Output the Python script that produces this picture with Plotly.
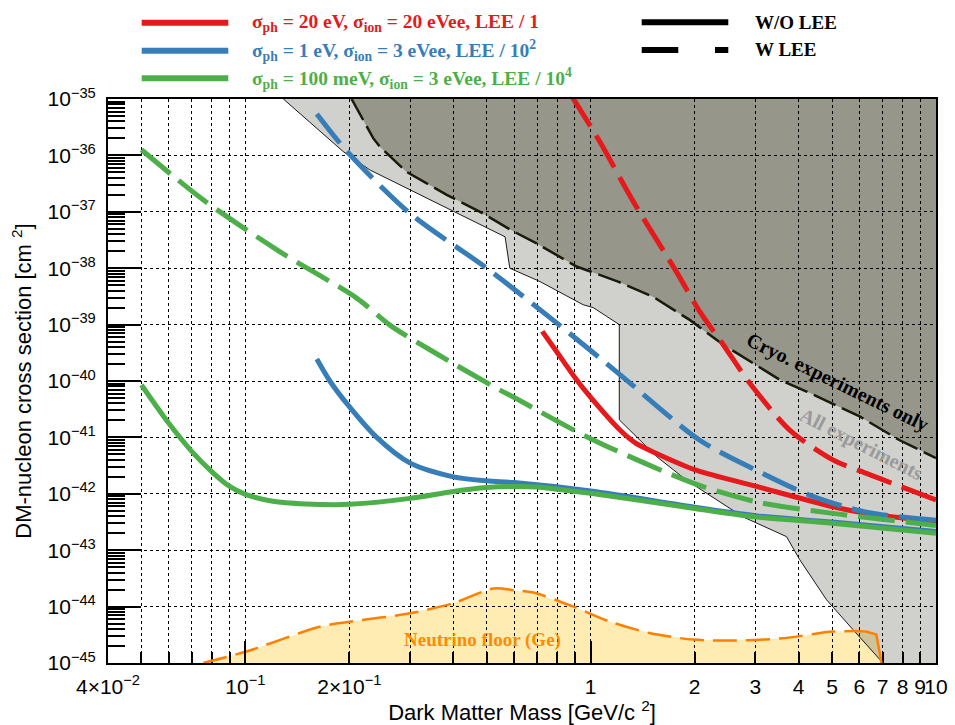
import numpy as np
import plotly.graph_objects as go

# ---------------- data (mass in GeV/c^2, cross section in cm^2) ----------------
green_solid_m = [0.050, 0.060, 0.070, 0.080, 0.090, 0.100, 0.12, 0.15, 0.18, 0.20, 0.30, 0.40, 0.50, 0.60, 0.70, 0.80, 1.0, 2.0, 3.0, 5.0, 10.0]
green_solid_s = [8.5e-41, 1.78e-41, 5.6e-42, 2.45e-42, 1.35e-42, 9.8e-43, 7.4e-43, 6.6e-43, 6.4e-43, 6.5e-43, 8.3e-43, 1.1e-42, 1.29e-42, 1.35e-42, 1.32e-42, 1.2e-42, 1.02e-42, 5.5e-43, 3.9e-43, 3.0e-43, 2.0e-43]

blue_solid_m = [0.161, 0.176, 0.20, 0.24, 0.30, 0.40, 0.50, 0.60, 1.0, 2.0, 3.0, 5.0, 10.0]
blue_solid_s = [2.45e-40, 9.8e-41, 3.5e-41, 1.0e-41, 3.5e-42, 2.0e-42, 1.7e-42, 1.58e-42, 1.12e-42, 5.8e-43, 4.1e-43, 3.15e-43, 2.15e-43]

red_solid_m = [0.724, 0.80, 0.91, 1.0, 1.215, 1.35, 1.55, 2.03, 3.02, 5.03, 6.29, 10.0]
red_solid_s = [7.6e-40, 3.2e-40, 1.05e-40, 5.1e-41, 1.35e-41, 7.9e-42, 5.2e-42, 2.6e-42, 1.35e-42, 5.9e-43, 4.5e-43, 3.2e-43]

red_dash_m = [0.875, 1.063, 1.33, 1.77, 2.07, 2.42, 2.89, 3.77, 5.03, 6.29, 10.0]
red_dash_s = [1.2e-35, 1.74e-36, 1.5e-37, 8.7e-39, 1.7e-39, 4.4e-40, 9.1e-41, 1.35e-41, 4.0e-42, 2.3e-42, 7.8e-43]

blue_dash_m = [0.161, 0.197, 0.30, 0.50, 0.80, 1.215, 2.07, 3.02, 4.3, 6.29, 10.0]
blue_dash_s = [5.4e-36, 1.17e-36, 9.3e-38, 1.0e-38, 1.05e-39, 1.3e-40, 8.9e-42, 2.6e-42, 9.5e-43, 4.7e-43, 3.4e-43]

green_dash_m = [0.050, 0.0756, 0.126, 0.21, 0.262, 0.35, 0.546, 0.597, 1.0, 1.98, 3.02, 5.03, 10.0]
green_dash_s = [1.26e-36, 1.62e-37, 1.95e-38, 2.95e-39, 9.8e-40, 3.3e-40, 6.9e-41, 5.2e-41, 9.5e-42, 1.55e-42, 7.2e-43, 4.5e-43, 2.75e-43]

nu_m = [0.0755, 0.10, 0.164, 0.20, 0.30, 0.40, 0.523, 0.60, 0.682, 0.89, 1.137, 1.48, 1.98, 2.58, 3.6, 5.03, 6.29, 6.72, 6.95]
nu_s = [1.0e-45, 1.58e-45, 4.4e-45, 5.4e-45, 7.6e-45, 1.15e-44, 2.1e-44, 1.95e-44, 1.78e-44, 1.0e-44, 5.4e-45, 3.4e-45, 2.6e-45, 2.5e-45, 2.75e-45, 3.6e-45, 3.6e-45, 3.2e-45, 1.0e-45]

all_m = [0.1288, 0.192, 0.2296, 0.30, 0.40, 0.489, 0.565, 0.583, 0.713, 0.951, 1.017, 1.21, 1.21, 1.55, 1.895, 2.76, 3.69, 4.03, 4.82, 5.75, 7.02]
all_s = [1.0e-35, 1.17e-36, 5.5e-37, 2.45e-37, 1.0e-37, 5.5e-38, 3.6e-38, 1.0e-38, 5.8e-39, 2.25e-39, 2.0e-39, 1.0e-39, 2.05e-41, 4.6e-42, 1.74e-42, 3.9e-43, 1.74e-43, 6.8e-44, 1.32e-44, 3.9e-45, 1.0e-45]

cryo_m = [0.203, 0.2347, 0.2455, 0.293, 0.383, 0.478, 0.597, 0.697, 0.91, 1.20, 1.517, 1.94, 2.42, 3.53, 4.22, 6.01, 7.85, 10.0]
cryo_s = [1.0e-35, 2.0e-36, 1.41e-36, 5.1e-37, 2.0e-37, 1.0e-37, 4.5e-38, 2.75e-38, 1.07e-38, 5.8e-39, 3.1e-39, 1.2e-39, 4.4e-40, 1.05e-40, 6.5e-41, 2.35e-41, 8.9e-42, 4.3e-42]

x_min, x_max = 0.04, 10.0
y_min, y_max = 1e-45, 1e-35

x_tick_vals = [0.04, 0.1, 0.2, 1, 2, 3, 4, 5, 6, 7, 8, 9, 10]
x_tick_text = ["4×10<sup>−2</sup>", "10<sup>−1</sup>", "2×10<sup>−1</sup>", "1", "2", "3", "4", "5", "6", "7", "8", "9", "10"]
y_exps = list(range(-45, -34))
y_tick_vals = [10.0 ** e for e in y_exps]
y_tick_text = ["10<sup>−%d</sup>" % (-e) for e in y_exps]

RED, BLUE, GREEN, ORANGE = "#e41a1c", "#377eb8", "#4daf4a", "#ff7f00"
LEGEND_TEXT = [
    ("σ<sub>ph</sub> = 20 eV, σ<sub>ion</sub> = 20 eVee, LEE / 1", RED),
    ("σ<sub>ph</sub> = 1 eV, σ<sub>ion</sub> = 3 eVee, LEE / 10<sup>2</sup>", BLUE),
    ("σ<sub>ph</sub> = 100 meV, σ<sub>ion</sub> = 3 eVee, LEE / 10<sup>4</sup>", GREEN),
]

# ---------------- figure ----------------
fig = go.Figure()

# layer 1 (below grid): filled regions
fig.add_trace(go.Scatter(x=nu_m, y=nu_s, fill="toself", fillcolor="#feecb3",
                         line=dict(width=0), mode="lines", xaxis="x", yaxis="y", hoverinfo="skip"))
fig.add_trace(go.Scatter(x=all_m + [x_max, x_max], y=all_s + [y_min, y_max], fill="toself",
                         fillcolor="rgba(110,112,100,0.32)", line=dict(width=0), mode="lines",
                         xaxis="x", yaxis="y", hoverinfo="skip"))
fig.add_trace(go.Scatter(x=cryo_m + [x_max], y=cryo_s + [y_max], fill="toself",
                         fillcolor="#96978a", line=dict(width=0), mode="lines",
                         xaxis="x", yaxis="y", hoverinfo="skip"))

# layer 2 (above grid): boundary lines and curves
def line(xs, ys, color, width, dash="solid"):
    fig.add_trace(go.Scatter(x=xs, y=ys, mode="lines",
                             line=dict(color=color, width=width, dash=dash, shape="spline", smoothing=0.8),
                             xaxis="x2", yaxis="y2", hoverinfo="skip"))

fig.add_trace(go.Scatter(x=all_m, y=all_s, mode="lines", line=dict(color="#1a1a1a", width=1),
                         xaxis="x2", yaxis="y2", hoverinfo="skip"))
fig.add_trace(go.Scatter(x=cryo_m, y=cryo_s, mode="lines", line=dict(color="#1a1a0a", width=2.5, dash="24px,7px"),
                         xaxis="x2", yaxis="y2", hoverinfo="skip"))
line(nu_m[:-1], nu_s[:-1], ORANGE, 2.5, "24px,9px")
fig.add_trace(go.Scatter(x=nu_m[-3:], y=nu_s[-3:], mode="lines", line=dict(color=ORANGE, width=2.5),
                         xaxis="x2", yaxis="y2", hoverinfo="skip"))
line(blue_solid_m, blue_solid_s, BLUE, 5)
line(green_solid_m, green_solid_s, GREEN, 5)
line(red_solid_m, red_solid_s, RED, 5)
line(red_dash_m, red_dash_s, RED, 5, "37px,11px")
line(blue_dash_m, blue_dash_s, BLUE, 5, "37px,11px")
line(green_dash_m, green_dash_s, GREEN, 5, "37px,11px")

# ---------------- axes ----------------
xr = [np.log10(x_min), np.log10(x_max)]
yr = [np.log10(y_min), np.log10(y_max)]
sans = "Liberation Sans, Arial, sans-serif"
tickfont = dict(family=sans, size=21, color="black")

x_minor_ticks = [0.05, 0.06, 0.07, 0.08, 0.09, 0.3, 0.4, 0.5, 0.6, 0.7, 0.8, 0.9]
x_grid_minor = [0.05, 0.06, 0.07, 0.08, 0.09, 0.2, 0.3, 0.4, 0.5, 0.6, 0.7, 0.8, 0.9,
                2, 3, 4, 5, 6, 7, 8, 9]
y_minor_ticks = [k * 10.0 ** e for e in range(-45, -35) for k in range(2, 10)]

fig.update_layout(
    width=955, height=725,
    margin=dict(l=108, r=19, t=99, b=62),
    paper_bgcolor="white", plot_bgcolor="rgba(0,0,0,0)",
    showlegend=False,
    xaxis=dict(type="log", range=xr, domain=[0, 1], anchor="y", automargin=False,
               tickmode="array", tickvals=x_tick_vals, ticktext=x_tick_text, tickangle=0,
               ticks="inside", ticklen=11, tickwidth=1.5, tickcolor="black",
               minor=dict(tickvals=x_minor_ticks, ticks="inside", ticklen=11, tickwidth=1.5, tickcolor="black"),
               showgrid=False, zeroline=False, showline=True, mirror=True, linecolor="black", linewidth=2,
               tickfont=tickfont, ticklabelstandoff=4,
               title=dict(text="Dark Matter Mass [GeV/c <sup>2</sup>]", standoff=2,
                          font=dict(family=sans, size=22, color="black"))),
    yaxis=dict(type="log", range=yr, domain=[0, 1], anchor="x", automargin=False,
               tickmode="array", tickvals=y_tick_vals, ticktext=y_tick_text,
               ticks="inside", ticklen=33, tickwidth=1.5, tickcolor="black",
               minor=dict(tickvals=y_minor_ticks, ticks="inside", ticklen=17, tickwidth=1.5, tickcolor="black"),
               showgrid=False, zeroline=False, showline=True, mirror=True, linecolor="black", linewidth=2,
               tickfont=tickfont, ticklabelstandoff=6,
               title=dict(text="DM-nucleon cross section [cm <sup>2</sup>]", standoff=10,
                          font=dict(family=sans, size=22, color="black"))),
    xaxis2=dict(type="log", range=xr, domain=[0, 1], anchor="y2", automargin=False,
                tickmode="array", tickvals=[0.1, 1], showticklabels=False,
                ticks="inside", ticklen=22, tickwidth=1.5, tickcolor="black",
                showgrid=True, gridcolor="black", gridwidth=1.3, griddash="dot",
                minor=dict(tickvals=x_grid_minor, ticks="", showgrid=True, gridcolor="black",
                           gridwidth=1.3, griddash="dot"),
                zeroline=False, showline=False),
    yaxis2=dict(type="log", range=yr, domain=[0, 1], anchor="x2", automargin=False,
                tickmode="array", tickvals=y_tick_vals, showticklabels=False, ticks="",
                showgrid=True, gridcolor="black", gridwidth=1.3, griddash="dot",
                zeroline=False, showline=False),
)

# ---------------- region labels ----------------
serif = "Liberation Serif, Times New Roman, serif"
fig.add_annotation(x=np.log10(5.2), y=-40.02, xref="x2", yref="y2", text="<b>Cryo. experiments only</b>",
                   showarrow=False, textangle=26, font=dict(family=serif, size=20, color="black"))
fig.add_annotation(x=np.log10(6.1), y=-41.12, xref="x2", yref="y2", text="<b>All experiments</b>",
                   showarrow=False, textangle=27, font=dict(family=serif, size=20, color="#9a9a9a"))
fig.add_annotation(x=np.log10(0.487), y=-44.59, xref="x2", yref="y2", text="<b>Neutrino floor (Ge)</b>",
                   showarrow=False, font=dict(family=serif, size=19, color="#ff8c00"))

# ---------------- legend (top) ----------------
def px_x(p):
    return (p - 108) / 828.0

def px_y(p):
    return (663 - p) / 564.0

rows_y = [22.7, 50.7, 78.3]
for (txt, col), yy in zip(LEGEND_TEXT, rows_y):
    fig.add_shape(type="line", xref="paper", yref="paper", x0=px_x(141.7), x1=px_x(228.3),
                  y0=px_y(yy), y1=px_y(yy), line=dict(color=col, width=6))
    fig.add_annotation(xref="paper", yref="paper", x=px_x(250), y=px_y(yy), xanchor="left", yanchor="middle",
                       text="<b>%s</b>" % txt, showarrow=False, font=dict(family=serif, size=19.5, color=col))

fig.add_shape(type="line", xref="paper", yref="paper", x0=px_x(641.7), x1=px_x(728.3),
              y0=px_y(22.3), y1=px_y(22.3), line=dict(color="black", width=6))
fig.add_shape(type="line", xref="paper", yref="paper", x0=px_x(641.7), x1=px_x(678.3),
              y0=px_y(50), y1=px_y(50), line=dict(color="black", width=6))
fig.add_shape(type="line", xref="paper", yref="paper", x0=px_x(715), x1=px_x(728.3),
              y0=px_y(50), y1=px_y(50), line=dict(color="black", width=6))
fig.add_annotation(xref="paper", yref="paper", x=px_x(753), y=px_y(22.3), xanchor="left", yanchor="middle",
                   text="<b>W/O LEE</b>", showarrow=False, font=dict(family=serif, size=19, color="black"))
fig.add_annotation(xref="paper", yref="paper", x=px_x(753), y=px_y(50), xanchor="left", yanchor="middle",
                   text="<b>W LEE</b>", showarrow=False, font=dict(family=serif, size=19, color="black"))

fig.write_html("out.html", config={"displayModeBar": False},
               post_script="document.body.style.margin='0px';document.body.style.overflow='hidden';")
